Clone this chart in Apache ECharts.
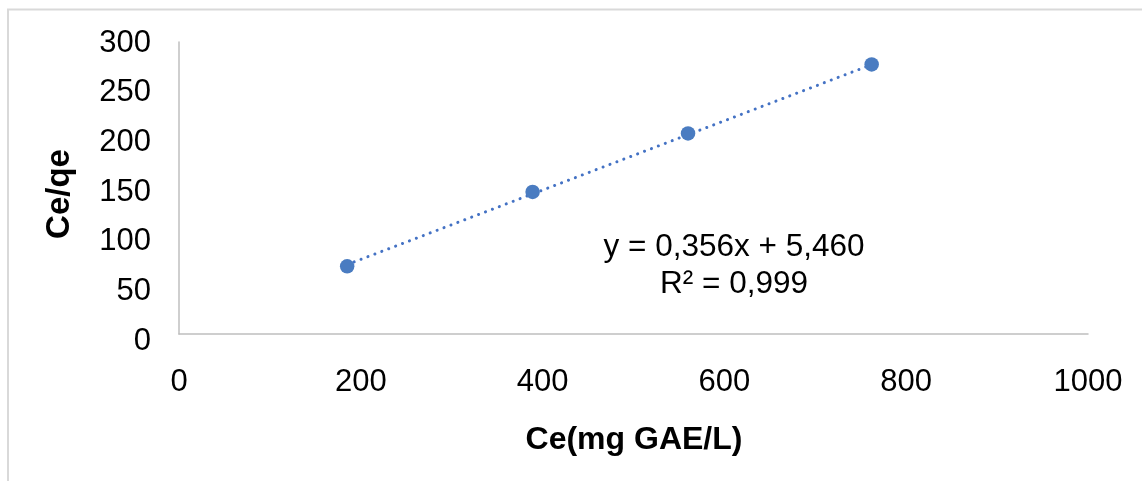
<!DOCTYPE html>
<html>
<head>
<meta charset="utf-8">
<script src="https://cdn.jsdelivr.net/npm/echarts@6/dist/echarts.min.js"></script>
<style>
  html, body { margin: 0; padding: 0; background: #fff; }
  #chart { width: 1142px; height: 481px; }
</style>
</head>
<body>
<div id="chart"></div>
<script>
// Data
const ceValues = [185, 389, 560, 762];          // Ce (mg GAE/L)
const ceQeValues = [69.5, 146, 206, 277];       // Ce/qe
const xTicks = [0, 200, 400, 600, 800, 1000];
const yTicks = [0, 50, 100, 150, 200, 250, 300];
const trendSlope = 0.356;
const trendIntercept = 5.460;
const equationText = 'y = 0,356x + 5,460';
const r2Text = 'R² = 0,999';
const xTitle = 'Ce(mg GAE/L)';
const yTitle = 'Ce/qe';

const points = ceValues.map((x, i) => [x, ceQeValues[i]]);
const xFirst = ceValues[0];
const xLast = ceValues[ceValues.length - 1];
const trendPoints = [
  [xFirst, trendSlope * xFirst + trendIntercept],
  [xLast, trendSlope * xLast + trendIntercept]
];

const FONT = '"Liberation Sans", Arial, sans-serif';

// y labels in the reference sit slightly lower toward the bottom of the axis
const yMax = yTicks[yTicks.length - 1];
const yRich = {};
yTicks.forEach((v, i) => {
  const shift = 1 + (yMax - v) / yMax * 6;
  yRich['t' + i] = { fontSize: 31, fontFamily: FONT, color: '#000', padding: [2 * shift, 0, 0, 0] };
});

const chart = echarts.init(document.getElementById('chart'), null, { renderer: 'canvas' });

chart.setOption({
  animation: false,
  backgroundColor: '#ffffff',
  grid: { left: 179, right: 54, top: 42, bottom: 147, containLabel: false },
  xAxis: {
    type: 'value',
    min: xTicks[0],
    max: xTicks[xTicks.length - 1],
    interval: xTicks[1] - xTicks[0],
    axisLine: { show: true, onZero: false, lineStyle: { color: '#bfbfbf', width: 1.5 } },
    axisTick: { show: false },
    splitLine: { show: false },
    axisLabel: { color: '#000', fontSize: 31, fontFamily: FONT, margin: 33, formatter: (v) => String(v) }
  },
  yAxis: {
    type: 'value',
    min: yTicks[0],
    max: yMax,
    interval: yTicks[1] - yTicks[0],
    axisLine: { show: true, onZero: false, lineStyle: { color: '#bfbfbf', width: 1.5 } },
    axisTick: { show: false },
    splitLine: { show: false },
    axisLabel: {
      color: '#000', fontSize: 31, fontFamily: FONT, margin: 28,
      formatter: (v) => {
        const i = yTicks.indexOf(v);
        return i >= 0 ? '{t' + i + '|' + v + '}' : String(v);
      },
      rich: yRich
    }
  },
  series: [
    {
      type: 'line',
      data: trendPoints,
      symbol: 'none',
      z: 1,
      lineStyle: { color: '#4472c4', width: 3, type: [0.1, 7.3], cap: 'round' },
      silent: true
    },
    {
      type: 'scatter',
      data: points,
      symbol: 'circle',
      symbolSize: 14.5,
      z: 2,
      itemStyle: { color: '#4a7cc1', opacity: 1 }
    }
  ],
  graphic: [
    {
      type: 'rect',
      shape: { x: 8, y: 9.5, width: 1200, height: 600 },
      style: { fill: 'none', stroke: '#d9d9d9', lineWidth: 2 },
      z: -10, silent: true
    },
    {
      type: 'text',
      x: 734, y: 247,
      style: { text: equationText, fontSize: 31.5, fontFamily: FONT, fill: '#000', align: 'center', verticalAlign: 'middle' }
    },
    {
      type: 'text',
      x: 734, y: 284,
      style: { text: r2Text, fontSize: 31.5, fontFamily: FONT, fill: '#000', align: 'center', verticalAlign: 'middle' }
    },
    {
      type: 'text',
      x: 634, y: 440,
      style: { text: xTitle, fontSize: 32, fontWeight: 'bold', fontFamily: FONT, fill: '#000', align: 'center', verticalAlign: 'middle' }
    },
    {
      type: 'text',
      x: 60, y: 194,
      rotation: Math.PI / 2,
      style: { text: yTitle, fontSize: 33, fontWeight: 'bold', fontFamily: FONT, fill: '#000', align: 'center', verticalAlign: 'middle' }
    }
  ]
});
</script>
</body>
</html>
